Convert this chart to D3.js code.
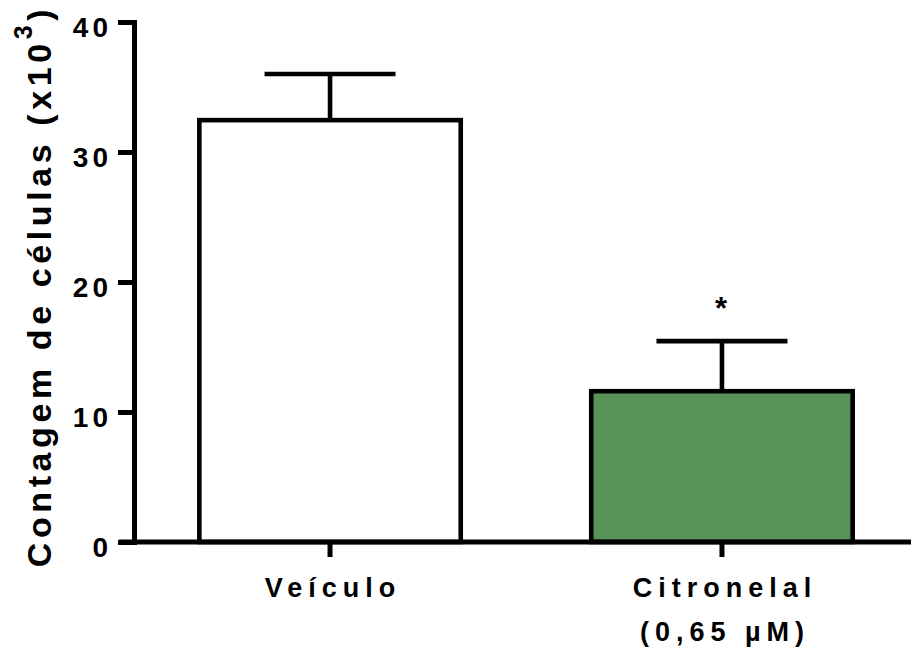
<!DOCTYPE html>
<html>
<head>
<meta charset="utf-8">
<script src="https://cdn.jsdelivr.net/npm/d3@7"></script>
<style>
  html, body { margin: 0; padding: 0; background: #fff; }
  svg { display: block; font-family: "Liberation Sans", Arial, Helvetica, sans-serif; font-weight: bold; }
</style>
</head>
<body>
<svg id="chart" width="911" height="650"></svg>
<script>
// ---- data ----
const categories = ["Veículo", "Citronelal"];
const categoryLines = [["Veículo"], ["Citronelal", "(0,65 µM)"]];
const means = [32.45, 11.6];
const errors = [3.55, 3.85];
const significance = ["", "*"];
const fills = ["#ffffff", "#58945a"];
const yTicks = [0, 10, 20, 30, 40];
const yTitle = "Contagem de células (x10";
const yTitleSup = "3";

// ---- layout ----
const svg = d3.select("#chart");
const y = d3.scaleLinear().domain([0, 40]).range([542, 22]);
const x = d3.scaleBand().domain(categories).range([134, 918]).paddingInner(0.333).paddingOuter(0.1667);
const axisX0 = 134;

// bars
svg.append("g").selectAll("rect").data(categories).join("rect")
  .attr("x", d => x(d))
  .attr("width", x.bandwidth())
  .attr("y", (d, i) => y(means[i]))
  .attr("height", (d, i) => y(0) - y(means[i]))
  .attr("fill", (d, i) => fills[i])
  .attr("stroke", "#000")
  .attr("stroke-width", 4.6);

// error bars (upper only)
const eb = svg.append("g").attr("stroke", "#000").attr("stroke-width", 4.6);
categories.forEach((c, i) => {
  const cx = x(c) + x.bandwidth() / 2;
  eb.append("line").attr("x1", cx).attr("x2", cx)
    .attr("y1", y(means[i])).attr("y2", y(means[i] + errors[i]));
  eb.append("line").attr("x1", cx - 65.5).attr("x2", cx + 65.5)
    .attr("y1", y(means[i] + errors[i])).attr("y2", y(means[i] + errors[i]));
  if (significance[i]) {
    svg.append("text").attr("x", cx - 1).attr("y", y(means[i] + errors[i]) - 22)
      .attr("text-anchor", "middle").attr("font-size", 31).text(significance[i]);
  }
});

// y axis
const yAxis = svg.append("g").attr("transform", `translate(${axisX0},0)`)
  .call(d3.axisLeft(y).tickValues(yTicks).tickSize(16).tickSizeOuter(0).tickPadding(7));
yAxis.select(".domain").attr("stroke", "#000").attr("stroke-width", 5).attr("stroke-linecap", "square");
yAxis.selectAll(".tick line").attr("stroke", "#000").attr("stroke-width", 5);
yAxis.selectAll(".tick text")
  .attr("font-size", 28).attr("font-family", "Liberation Sans, Arial, sans-serif")
  .attr("font-weight", "bold").attr("fill", "#000")
  .attr("letter-spacing", "4px").attr("dy", "0.5em").attr("dx", "1");

// x axis
const xAxisG = svg.append("g").attr("transform", `translate(0,${y(0)})`)
  .call(d3.axisBottom(x).tickSize(15).tickSizeOuter(0).tickFormat(""));
xAxisG.select(".domain").remove();
xAxisG.selectAll(".tick line").attr("stroke", "#000").attr("stroke-width", 5);
svg.append("line").attr("x1", 119).attr("x2", 911).attr("y1", y(0)).attr("y2", y(0))
  .attr("stroke", "#000").attr("stroke-width", 5);

// category labels
categories.forEach((c, i) => {
  const cx = x(c) + x.bandwidth() / 2;
  categoryLines[i].forEach((line, j) => {
    svg.append("text").attr("x", cx + 3).attr("y", 597 + j * 44)
      .attr("text-anchor", "middle").attr("font-size", 27)
      .attr("letter-spacing", "6px").text(line);
  });
});

// y title
const yt = svg.append("text")
  .attr("transform", "translate(51,286) rotate(-90)")
  .attr("text-anchor", "middle").attr("font-size", 34).attr("letter-spacing", "4.6px");
yt.append("tspan").text(yTitle);
yt.append("tspan").attr("font-size", 25).attr("dy", -19).text(yTitleSup);
yt.append("tspan").attr("dy", 19).text(")");
</script>
</body>
</html>
